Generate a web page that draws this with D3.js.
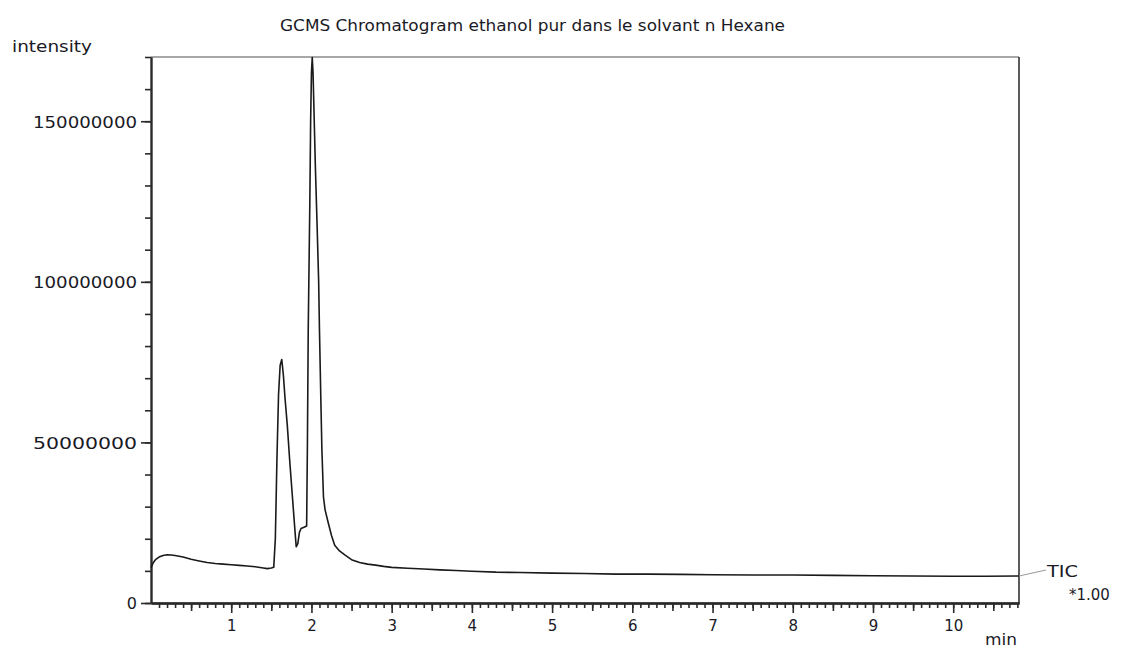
<!DOCTYPE html>
<html>
<head>
<meta charset="utf-8">
<script src="https://cdn.jsdelivr.net/npm/d3@7"></script>
<style>
  html, body { margin: 0; padding: 0; background: #fff; }
  svg { display: block; }
  text { font-family: "DejaVu Sans", Verdana, sans-serif; fill: #1a1a26; }
</style>
</head>
<body>
<svg id="chart" width="1123" height="651"></svg>
<script>
// Retention time (min) and total ion current
const retentionTime = [
  0.00, 0.03, 0.06, 0.10, 0.15, 0.20, 0.25, 0.30, 0.40, 0.50,
  0.60, 0.70, 0.80, 0.90, 1.00, 1.10, 1.20, 1.30, 1.40, 1.45,
  1.50, 1.53, 1.55, 1.57, 1.59, 1.61, 1.63, 1.65, 1.67, 1.70,
  1.73, 1.76, 1.79, 1.81, 1.83, 1.85, 1.87, 1.90, 1.94, 1.95,
  1.96, 1.97, 1.98, 1.99, 2.00, 2.01, 2.02, 2.03, 2.05, 2.07,
  2.09, 2.10, 2.12, 2.13, 2.15, 2.17, 2.21, 2.25, 2.29, 2.35,
  2.42, 2.50, 2.60, 2.70, 2.80, 2.90, 3.00, 3.20, 3.40, 3.60,
  3.80, 4.00, 4.30, 4.60, 5.00, 5.40, 5.80, 6.20, 6.60, 7.00,
  7.50, 8.00, 8.50, 9.00, 9.50, 10.00, 10.40, 10.82
];
const ticIntensity = [
  11.0e6, 12.6e6, 13.6e6, 14.3e6, 14.8e6, 15.0e6, 14.95e6, 14.8e6, 14.3e6, 13.6e6,
  13.1e6, 12.6e6, 12.3e6, 12.1e6, 11.9e6, 11.7e6, 11.5e6, 11.3e6, 10.9e6, 10.7e6,
  10.9e6, 11.1e6, 20e6, 45e6, 65e6, 74e6, 75.8e6, 71e6, 64e6, 55e6,
  44e6, 34e6, 24e6, 17.5e6, 18.5e6, 22e6, 23.2e6, 23.5e6, 24e6, 50e6,
  85e6, 105e6, 125e6, 150e6, 165e6, 169.8e6, 165e6, 155e6, 135e6, 118e6,
  100e6, 85e6, 60e6, 48e6, 33e6, 29e6, 24.9e6, 21e6, 18e6, 16.2e6,
  14.9e6, 13.5e6, 12.6e6, 12.1e6, 11.8e6, 11.4e6, 11.1e6, 10.8e6, 10.6e6, 10.3e6,
  10.1e6, 9.9e6, 9.6e6, 9.5e6, 9.3e6, 9.2e6, 9.0e6, 9.0e6, 8.9e6, 8.8e6,
  8.7e6, 8.7e6, 8.6e6, 8.5e6, 8.4e6, 8.35e6, 8.35e6, 8.4e6
];

// Axis ticks
const yMajorTicks = [0, 50000000, 100000000, 150000000];
const yMinorTicks = d3.range(0, 170000001, 10000000);
const xMajorTicks = [1, 2, 3, 4, 5, 6, 7, 8, 9, 10];
const xHalfTicks = [0.5, 1.5, 2.5, 3.5, 4.5, 5.5, 6.5, 7.5, 8.5, 9.5, 10.5];
const xMinorTicks = d3.range(1, 109).map(i => i / 10);

const titleText = "GCMS Chromatogram ethanol pur dans le solvant n Hexane";
const yAxisName = "intensity";
const xAxisName = "min";
const traceName = "TIC";
const traceScale = "*1.00";

const svg = d3.select("#chart");
const plot = { left: 151, right: 1019, top: 57, bottom: 603 };

const x = d3.scaleLinear().domain([0, 10.82]).range([plot.left, plot.right]);
const y = d3.scaleLinear().domain([0, 170000000]).range([plot.bottom, plot.top]);

// frame: top and right edges
svg.append("line")
  .attr("x1", plot.left).attr("x2", plot.right)
  .attr("y1", plot.top).attr("y2", plot.top)
  .attr("stroke", "#8a8a8a").attr("stroke-width", 1.4);
svg.append("line")
  .attr("x1", plot.right).attr("x2", plot.right)
  .attr("y1", plot.top).attr("y2", plot.bottom)
  .attr("stroke", "#333").attr("stroke-width", 1.6);

function styleAxis(g) {
  g.selectAll("path.domain").attr("stroke", "#2a2a2a").attr("stroke-width", 1.9);
  g.selectAll(".tick line").attr("stroke", "#2a2a2a").attr("stroke-width", 1.6);
}

// y axis: minor ticks, then labelled majors
svg.append("g")
  .attr("transform", `translate(${plot.left},0)`)
  .call(d3.axisLeft(y).tickValues(yMinorTicks).tickSize(6).tickFormat("").tickSizeOuter(0))
  .call(styleAxis);
const yMajor = svg.append("g")
  .attr("transform", `translate(${plot.left},0)`)
  .call(d3.axisLeft(y).tickValues(yMajorTicks).tickSize(10).tickPadding(4)
    .tickFormat(d => String(d)).tickSizeOuter(0))
  .call(styleAxis);
yMajor.selectAll("text")
  .attr("font-size", 16)
  .attr("font-family", "DejaVu Sans, Verdana, sans-serif")
  .attr("fill", "#1a1a26")
  .attr("dy", "0.36em")
  .each(function(d) {
    if (d !== 0) d3.select(this).attr("textLength", 104).attr("lengthAdjust", "spacingAndGlyphs");
  });

// x axis: tenths, halves, labelled minutes
svg.append("g")
  .attr("transform", `translate(0,${plot.bottom})`)
  .call(d3.axisBottom(x).tickValues(xMinorTicks).tickSize(5).tickFormat("").tickSizeOuter(0))
  .call(styleAxis);
svg.append("g")
  .attr("transform", `translate(0,${plot.bottom})`)
  .call(d3.axisBottom(x).tickValues(xHalfTicks).tickSize(8).tickFormat("").tickSizeOuter(0))
  .call(styleAxis);
const xMajor = svg.append("g")
  .attr("transform", `translate(0,${plot.bottom})`)
  .call(d3.axisBottom(x).tickValues(xMajorTicks).tickSize(10).tickPadding(7)
    .tickFormat(d => String(d)).tickSizeOuter(0))
  .call(styleAxis);
xMajor.selectAll("text")
  .attr("font-size", 15)
  .attr("font-family", "DejaVu Sans, Verdana, sans-serif")
  .attr("fill", "#1a1a26");

// chromatogram trace
const pts = retentionTime.map((t, i) => [t, ticIntensity[i]]);
svg.append("path")
  .datum(pts)
  .attr("fill", "none")
  .attr("stroke", "#1a1a1a")
  .attr("stroke-width", 1.6)
  .attr("stroke-linejoin", "round")
  .attr("d", d3.line().x(d => x(d[0])).y(d => y(d[1])));

// trace label with leader
const lastVal = ticIntensity[ticIntensity.length - 1];
svg.append("line")
  .attr("x1", plot.right).attr("y1", y(lastVal))
  .attr("x2", plot.right + 27).attr("y2", y(lastVal) - 6)
  .attr("stroke", "#999").attr("stroke-width", 1);
svg.append("text")
  .attr("x", 1047).attr("y", 577)
  .attr("font-size", 16)
  .attr("textLength", 31).attr("lengthAdjust", "spacingAndGlyphs")
  .text(traceName);
svg.append("text")
  .attr("x", 1069).attr("y", 600)
  .attr("font-size", 15)
  .text(traceScale);

// titles
svg.append("text")
  .attr("x", 280).attr("y", 31)
  .attr("font-size", 15)
  .attr("textLength", 505).attr("lengthAdjust", "spacingAndGlyphs")
  .text(titleText);
svg.append("text")
  .attr("x", 12).attr("y", 52)
  .attr("font-size", 15)
  .attr("textLength", 80).attr("lengthAdjust", "spacingAndGlyphs")
  .text(yAxisName);
svg.append("text")
  .attr("x", 985).attr("y", 645)
  .attr("font-size", 15)
  .attr("textLength", 32).attr("lengthAdjust", "spacingAndGlyphs")
  .text(xAxisName);
</script>
</body>
</html>
